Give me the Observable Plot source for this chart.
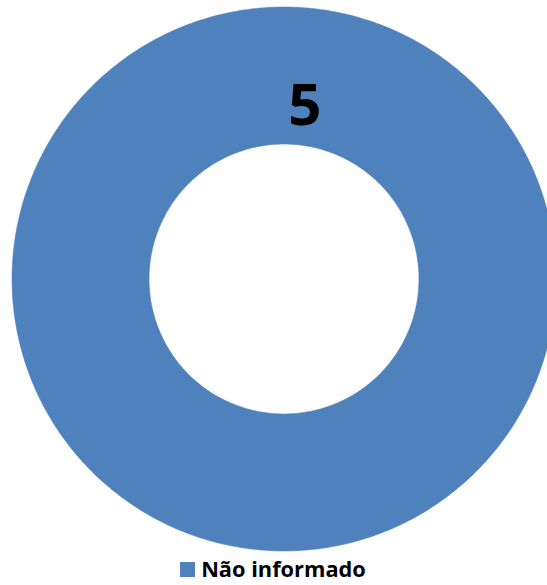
<!DOCTYPE html>
<html>
<head>
<meta charset="utf-8">
<script src="https://cdn.jsdelivr.net/npm/d3@7"></script>
<script src="https://cdn.jsdelivr.net/npm/@observablehq/plot@0.6"></script>
<style>
  html, body { margin: 0; padding: 0; background: #fff; }
  #chart { width: 547px; }
  .legend { display: flex; justify-content: center; align-items: center; gap: 6px;
    font-family: "Open Sans", sans-serif; font-weight: 700; font-size: 21.8px; color: #000;
    margin-top: 1px; margin-left: -1px; line-height: 24px; }
  .legend .sw { width: 15px; height: 15px; background: #4F81BD; display: inline-block; margin-top: 1px; }
</style>
</head>
<body>
<div id="chart"></div>
<script>
// Data
const categories = ["Não informado"];
const values = [5];
const colors = ["#4F81BD"];

const innerFrac = 0.496;
const labelAngle = 0.12;   // radians from top, clockwise
const labelRadius = 0.64;

const pie = d3.pie().sort(null)(values);
const pts = [];
pie.forEach((s, i) => {
  const n = 360;
  for (let k = 0; k <= n; k++) {
    const a = s.startAngle + (s.endAngle - s.startAngle) * k / n;
    pts.push({cat: categories[i], x: Math.sin(a), y: Math.cos(a)});
  }
  for (let k = n; k >= 0; k--) {
    const a = s.startAngle + (s.endAngle - s.startAngle) * k / n;
    pts.push({cat: categories[i], x: innerFrac * Math.sin(a), y: innerFrac * Math.cos(a)});
  }
});
const labels = pie.map((s, i) => ({
  text: String(values[i]),
  x: labelRadius * Math.sin(s.startAngle + labelAngle),
  y: labelRadius * Math.cos(s.startAngle + labelAngle)
}));

const cx = 283.5, cy = 278.5, R = 272;
const plot = Plot.plot({
  width: 547,
  height: 556,
  margin: 0,
  style: {background: "#fff"},
  x: {domain: [-1, 1], range: [cx - R, cx + R], axis: null},
  y: {domain: [-1, 1], range: [cy + R, cy - R], axis: null},
  color: {domain: categories, range: colors},
  marks: [
    Plot.line(pts, {x: "x", y: "y", z: "cat", fill: "cat", stroke: "cat", strokeWidth: 0.5, curve: "linear"}),
    Plot.text(labels, {x: "x", y: "y", text: "text", fontSize: 58, fontWeight: 700,
      fontFamily: "Open Sans", fill: "#000", lineAnchor: "middle"})
  ]
});
document.getElementById("chart").appendChild(plot);

const leg = document.createElement("div");
leg.className = "legend";
categories.forEach((c, i) => {
  const sw = document.createElement("span");
  sw.className = "sw";
  sw.style.background = colors[i];
  const t = document.createElement("span");
  t.textContent = c;
  leg.appendChild(sw);
  leg.appendChild(t);
});
document.getElementById("chart").appendChild(leg);
</script>
</body>
</html>
